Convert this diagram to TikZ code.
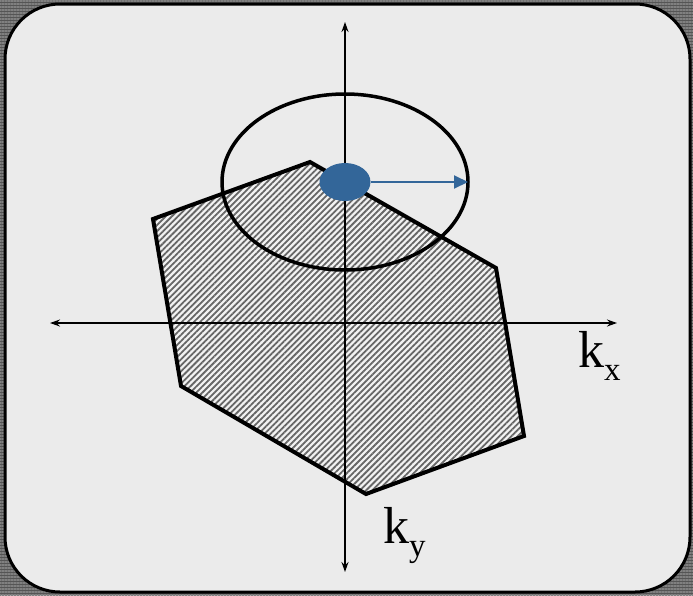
\documentclass[tikz,border=0pt]{standalone}
\usepackage{fontspec}
\setmainfont{Liberation Serif}
\usetikzlibrary{arrows.meta,patterns.meta,shapes.geometric,positioning}
\definecolor{dotblue}{HTML}{336699}
\definecolor{panel}{HTML}{EBEBEB}
\definecolor{frame}{HTML}{555555}
\tikzset{
  axis/.style={line width=1.5pt,{Stealth[length=10pt,width=7pt]}-{Stealth[length=10pt,width=7pt]}},
  zone/.style={line width=4pt,line join=miter},
  klabel/.style={anchor=base west,inner sep=0pt,font=\fontsize{52}{56}\selectfont}
}
\begin{document}
\begin{tikzpicture}[x=1pt,y=-1pt]
\useasboundingbox (0,0) rectangle (693,595);
% striped frame and panel
\fill[frame] (0,0) rectangle (693,595);
\fill[pattern={Lines[angle=0,distance=3pt,line width=1.2pt]},pattern color=gray] (0,0) rectangle (693,595);
\draw[fill=panel,line width=3pt,rounded corners=55pt] (5,4) rectangle (690,592);
% hatched zone
\coordinate (z1) at (310,162);
\coordinate (z2) at (496,268);
\coordinate (z3) at (524,436);
\coordinate (z4) at (366,494);
\coordinate (z5) at (181,386);
\coordinate (z6) at (153,219);
\fill[white!95!black] (z1) -- (z2) -- (z3) -- (z4) -- (z5) -- (z6) -- cycle;
\fill[pattern={Lines[angle=45,distance=4.3pt,line width=1.8pt]},pattern color=black!60]
  (z1) -- (z2) -- (z3) -- (z4) -- (z5) -- (z6) -- cycle;
\draw[zone] (z1) -- (z2) -- (z3) -- (z4) -- (z5) -- (z6) -- cycle;
% axes
\coordinate (xl) at (50,323);
\coordinate (xr) at (617,323);
\coordinate (yt) at (345,22);
\coordinate (yb) at (345,572);
\draw[axis] (xl) -- (xr);
\draw[axis] (yt) -- (yb);
% circle and point
\coordinate (c) at (345,182);
\draw[line width=3.5pt] (c) ellipse [x radius=123pt,y radius=88pt];
\node[ellipse,fill=dotblue,minimum width=51pt,minimum height=38pt,inner sep=0pt] (dot) at (c) {};
\coordinate (tip) at (468,182);
\draw[dotblue,line width=2pt,-{Triangle[length=14pt,width=13pt]}] (dot.east) -- (tip);
% labels
\node[klabel] (kx) at (578,367) {k\raisebox{-13pt}{\fontsize{33}{35}\selectfont x}};
\node[klabel] (ky) at (383,543) {k\raisebox{-13pt}{\fontsize{33}{35}\selectfont y}};
\end{tikzpicture}
\end{document}
